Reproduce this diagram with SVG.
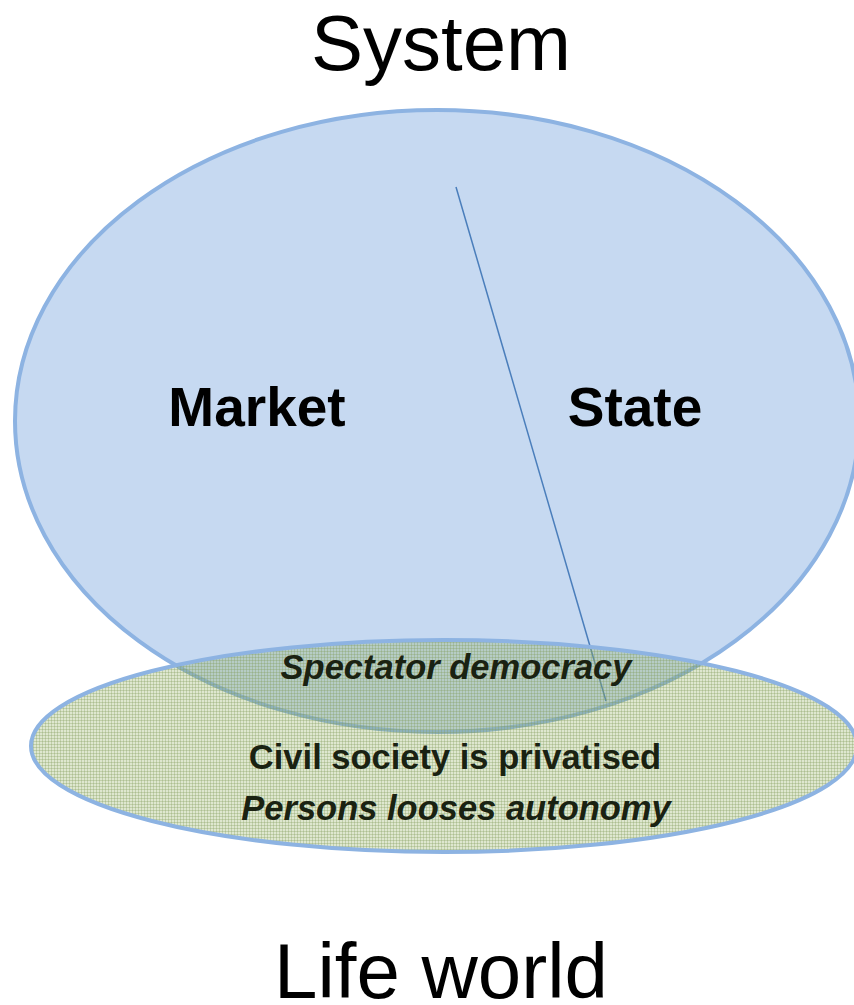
<svg xmlns="http://www.w3.org/2000/svg" width="854" height="1005" viewBox="0 0 854 1005">
<style>
.t{font-family:"Liberation Sans",Arial,sans-serif;fill:#000}
.b{font-weight:bold}
.i{font-style:italic}
.lw{fill:#1a2212}
</style>
<defs>
<pattern id="dots" width="3" height="3" patternUnits="userSpaceOnUse">
<rect width="3" height="3" fill="#94b060" fill-opacity="0.3"/>
<rect width="3" height="1" fill="#7e9a58" fill-opacity="0.3"/>
<rect width="1" height="3" fill="#7e9a58" fill-opacity="0.3"/>
</pattern>
</defs>
<rect width="854" height="1005" fill="#fff"/>
<g id="system-title"><text class="t" x="441" y="70" font-size="78" text-anchor="middle">System</text></g>
<g id="system">
<ellipse cx="437" cy="421" rx="422" ry="311" fill="#c6d9f1" stroke="#8db3e2" stroke-width="4"/>
</g>
<g id="connectors">
<line x1="456" y1="187" x2="606" y2="701" stroke="#4a7ebb" stroke-width="1.5"/>
</g>
<g id="market"><text class="t b" x="257" y="426" font-size="55" text-anchor="middle">Market</text></g>
<g id="state"><text class="t b" x="635" y="426" font-size="55" text-anchor="middle">State</text></g>
<g id="lifeworld-ellipse">
<ellipse cx="444" cy="746" rx="413" ry="106" fill="url(#dots)" stroke="#8db3e2" stroke-width="4"/>
<text class="t b i lw" x="456" y="679" font-size="34.5" text-anchor="middle">Spectator democracy</text>
<text class="t b lw" x="455" y="769" font-size="34.5" text-anchor="middle">Civil society is privatised</text>
<text class="t b i lw" x="456" y="820" font-size="34.5" text-anchor="middle">Persons looses autonomy</text>
</g>
<g id="lifeworld-title"><text class="t" x="441" y="998" font-size="78" text-anchor="middle">Life world</text></g>
</svg>
